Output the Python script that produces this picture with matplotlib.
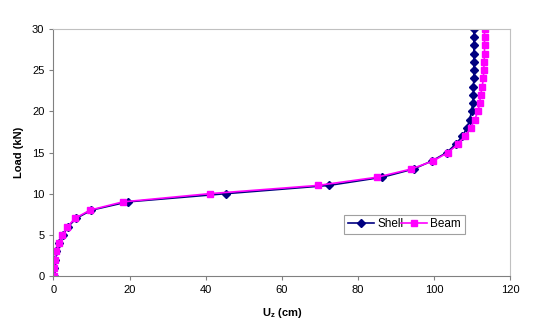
import matplotlib
matplotlib.use('Agg')
import matplotlib.pyplot as plt
import numpy as np

plt.rcParams['font.family'] = ['Liberation Sans', 'DejaVu Sans']
plt.rcParams['mathtext.fontset'] = 'custom'
plt.rcParams['mathtext.rm'] = 'Liberation Sans:bold'
plt.rcParams['mathtext.bf'] = 'Liberation Sans:bold'

# load steps (kN)
load = np.arange(0, 31)

# displacement Uz (cm)
shell = [0.1, 0.2, 0.4, 0.8, 1.5, 2.5, 3.9, 6.0, 10.0, 19.5,
         45.3, 72.3, 86.4, 94.6, 99.5, 103.3, 105.6, 107.4, 108.6, 109.3,
         109.8, 110.1, 110.3, 110.3, 110.4, 110.4, 110.4, 110.4, 110.4, 110.4,
         110.4]
beam = [0.1, 0.2, 0.4, 0.8, 1.5, 2.4, 3.7, 5.7, 9.6, 18.2,
        41.0, 69.4, 85.0, 94.0, 99.8, 103.6, 106.2, 108.1, 109.6, 110.6,
        111.5, 111.9, 112.2, 112.6, 112.9, 113.0, 113.1, 113.2, 113.2, 113.2,
        113.2]

fig = plt.figure(figsize=(5.5, 3.3), dpi=100)
ax = fig.add_axes([0.097, 0.1636, 0.831, 0.7485])

ax.plot(shell, load, color='#000080', marker='D', markersize=3.8, lw=1.2, label='Shell')
ax.plot(beam, load, color='#FF00FF', marker='s', markersize=4.2, lw=1.2, label='Beam')

ax.set_xlim(0, 120)
ax.set_ylim(0, 30)
ax.set_xticks(range(0, 121, 20))
ax.set_yticks(range(0, 31, 5))
ax.tick_params(labelsize=8, length=3, width=0.8, color='#808080')

for s in ['left', 'bottom']:
    ax.spines[s].set_color('#808080')
for s in ['top', 'right']:
    ax.spines[s].set_color('#c0c0c0')

ax.set_ylabel('Load (kN)', fontsize=8, fontweight='bold', labelpad=6)
ax.set_xlabel(r'U$_\mathregular{z}$ (cm)', fontsize=8, fontweight='bold', labelpad=8)

leg = ax.legend(loc='lower left', bbox_to_anchor=(0.636, 0.17, 0.264, 0.085), ncol=2,
                fontsize=8.5, fancybox=False, framealpha=1, edgecolor='#a0a0a0',
                handlelength=2.2, handletextpad=0.3, columnspacing=0.8,
                borderpad=0.3, borderaxespad=0, mode='expand')
leg.get_frame().set_linewidth(0.8)

fig.savefig('out.png', dpi=100)
